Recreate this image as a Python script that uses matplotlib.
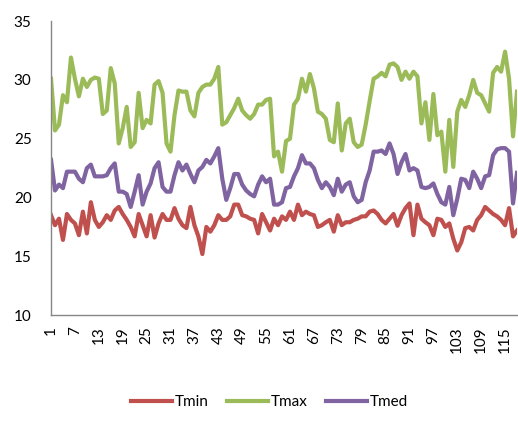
import numpy as np
import matplotlib.pyplot as plt

# daily temperatures
tmax = [30.1, 25.7, 26.2, 28.7, 28.1, 31.9, 30.1, 28.6, 30.1, 29.4,
        30.0, 30.2, 30.1, 27.1, 27.4, 31.0, 29.7, 24.6, 25.9, 27.7,
        24.3, 24.7, 28.9, 25.9, 26.6, 26.3, 29.6, 29.9, 28.9, 24.6,
        23.9, 27.0, 29.1, 29.0, 29.0, 27.4, 26.9, 28.9, 29.4, 29.6,
        29.6, 30.1, 31.1, 26.2, 26.4, 27.0, 27.6, 28.4, 27.4, 27.0,
        26.7, 27.1, 27.9, 27.9, 28.3, 28.4, 23.5, 23.9, 22.2, 24.8,
        25.0, 27.9, 28.4, 30.1, 29.0, 30.5, 29.3, 27.3, 27.1, 26.7,
        24.9, 24.7, 28.0, 24.0, 26.3, 26.7, 24.7, 24.3, 24.5, 26.2,
        28.2, 30.1, 30.3, 30.6, 30.3, 31.3, 31.4, 31.1, 30.0, 30.7,
        30.1, 30.7, 30.3, 26.3, 28.1, 24.9, 28.8, 25.3, 25.6, 22.2,
        26.6, 22.6, 27.3, 28.3, 27.7, 28.7, 30.0, 28.9, 28.7, 28.0,
        27.3, 30.6, 31.1, 30.7, 32.4, 30.1, 25.2, 29.0]

tmed = [23.2, 20.6, 21.1, 20.8, 22.2, 22.2, 22.2, 21.6, 21.3, 22.5,
        22.8, 21.8, 21.8, 21.8, 21.9, 22.5, 22.9, 20.5, 20.5, 20.3,
        19.2, 20.5, 21.9, 19.4, 20.5, 21.2, 22.5, 23.0, 20.9, 20.5,
        20.5, 21.9, 23.0, 22.3, 22.8, 22.0, 21.3, 22.3, 22.6, 23.2,
        22.9, 23.5, 24.2, 21.6, 19.8, 20.8, 22.0, 22.0, 21.1, 20.6,
        20.3, 20.1, 21.1, 21.8, 21.3, 21.6, 19.4, 19.4, 19.6, 20.8,
        20.9, 21.8, 22.5, 23.6, 22.9, 22.9, 22.5, 21.5, 20.8, 21.3,
        20.9, 20.2, 21.6, 20.5, 21.1, 21.3, 20.1, 19.6, 19.8, 21.3,
        22.3, 23.9, 23.9, 24.0, 23.7, 24.6, 23.7, 22.0, 23.0, 23.7,
        22.3, 22.5, 22.3, 20.9, 20.8, 20.9, 21.2, 20.3, 19.6, 19.4,
        20.9, 18.5, 19.9, 21.6, 21.5, 20.8, 22.2, 21.6, 20.8, 21.8,
        21.9, 23.6, 24.1, 24.2, 24.2, 23.9, 19.5, 22.1]

tmin = [18.5, 17.65, 18.2, 16.4, 18.6, 18.1, 17.8, 16.8, 18.8, 16.95,
        19.6, 18.1, 17.5, 17.9, 18.5, 18.1, 18.9, 19.2, 18.6, 18.1,
        17.5, 16.7, 18.6, 17.65, 16.7, 18.5, 16.6, 17.8, 18.6, 18.1,
        18.1, 19.1, 18.2, 17.65, 17.4, 19.2, 17.65, 16.7, 15.2, 17.5,
        17.1, 17.65, 18.5, 18.1, 18.1, 18.4, 19.4, 19.4, 18.5, 18.4,
        18.2, 18.1, 16.95, 18.6, 17.9, 17.2, 18.2, 17.65, 18.4, 18.1,
        18.8, 18.1, 19.4, 18.5, 18.8, 18.6, 18.5, 17.5, 17.65, 17.9,
        18.1, 17.1, 18.5, 17.65, 17.9, 17.9, 18.1, 18.2, 18.4, 18.4,
        18.8, 18.9, 18.6, 18.1, 17.8, 18.2, 18.6, 17.6, 18.5, 19.1,
        19.5, 16.8, 19.4, 18.2, 17.9, 17.65, 16.8, 18.2, 18.1, 17.5,
        17.8, 16.5, 15.5, 16.2, 17.4, 17.5, 17.2, 18.1, 18.5, 19.2,
        18.9, 18.6, 18.4, 18.1, 17.65, 19.1, 16.7, 17.2]

days = np.arange(1, len(tmax) + 1)
xticks = days[::6]

plt.rcParams['font.family'] = ['Lato', 'DejaVu Sans']

fig = plt.figure(figsize=(5.18, 4.30), dpi=100)
ax = fig.add_axes([0.0985, 0.267, 0.8996, 0.684])

ax.plot(days, tmin, color='#C0504D', lw=3, label='Tmin', solid_joinstyle='round')
ax.plot(days, tmax, color='#9BBB59', lw=3, label='Tmax', solid_joinstyle='round')
ax.plot(days, tmed, color='#8064A2', lw=3, label='Tmed', solid_joinstyle='round')

ax.set_xlim(1, len(days))
ax.set_ylim(10, 35)
ax.set_yticks(range(10, 36, 5))
ax.set_xticks(xticks)
ax.set_xticklabels([str(d) for d in xticks], rotation=90)
ax.tick_params(axis='both', length=0, labelsize=11, colors='black')
ax.tick_params(axis='y', pad=14)
ax.tick_params(axis='x', pad=8)

for s in ['top', 'right']:
    ax.spines[s].set_visible(False)
for s in ['left', 'bottom']:
    ax.spines[s].set_color('#868686')
    ax.spines[s].set_linewidth(1.0)
ax.set_clip_on(False)

fig.legend(loc='center', bbox_to_anchor=(0.52, 0.065), ncol=3, frameon=False,
           fontsize=11, handlelength=2.7, handletextpad=0.15, columnspacing=1.2)

fig.savefig('out.png', dpi=100)
